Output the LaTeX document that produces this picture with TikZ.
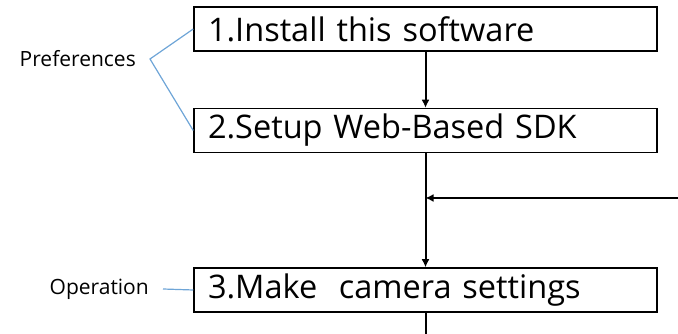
\documentclass[tikz,border=0pt]{standalone}
\usepackage{fontspec}
\setmainfont{Open Sans}
\usetikzlibrary{positioning}
\usetikzlibrary{arrows.meta}

\definecolor{linkblue}{RGB}{110,165,215}

\tikzset{
  stepbox/.style={
    draw, line width=1.5pt,
    minimum width=463pt, minimum height=44pt,
    text width=435pt, inner xsep=13pt, align=left,
    font=\fontsize{32.5}{32.5}\selectfont},
  phase/.style={inner xsep=14pt, font=\fontsize{21}{21}\selectfont},
  flow/.style={-{Latex[length=8pt,width=8pt]}, line width=2pt}
}

\begin{document}
\begin{tikzpicture}[x=1pt,y=1pt]
\useasboundingbox (0,0) rectangle (678,334);
\node[stepbox] (install) at (425.5,305) {1.Install this software};
\node[stepbox, below=56pt of install] (setup) {2.Setup Web-Based SDK};
\node[stepbox, below=114pt of setup] (camera) {3.Make\ \ camera settings};
\node[phase, anchor=east] (prefs) at (150,275) {Preferences};
\node[phase, anchor=east] (oper) at (163,45) {Operation};
\coordinate (back) at (678,136);
\coordinate (next) at (camera.south |- 0,0);
% blue brackets
\draw[linkblue, line width=1.2pt] (install.west) -- (prefs.east) -- (setup.west);
\draw[linkblue, line width=1.2pt] (oper.east) -- (camera.west);
% flow
\draw[flow] (install) -- (setup);
\draw[flow] (setup) -- (camera);
\draw[flow] (back) -- (back -| setup.south);
\draw[line width=2pt] (camera.south) -- (next);
\end{tikzpicture}
\end{document}
